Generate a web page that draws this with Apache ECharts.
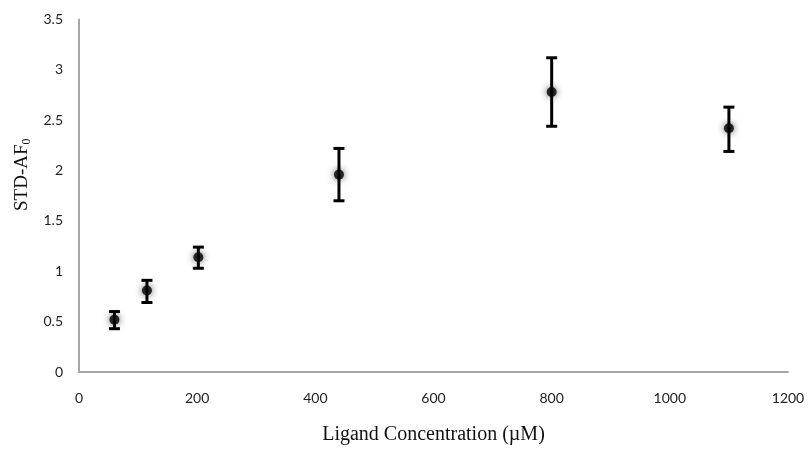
<!DOCTYPE html>
<html>
<head>
<meta charset="utf-8">
<script src="https://cdn.jsdelivr.net/npm/echarts@6/dist/echarts.min.js"></script>
<style>html,body{margin:0;padding:0;background:#fff}#c{width:809px;height:449px}</style>
</head>
<body>
<div id="c"></div>
<script>
var concentrations = [60, 115, 202, 440, 800, 1100];
var meanValues = [0.52, 0.81, 1.14, 1.96, 2.78, 2.42];
var errLow = [0.43, 0.69, 1.03, 1.70, 2.44, 2.19];
var errHigh = [0.60, 0.91, 1.24, 2.22, 3.12, 2.63];
var xTicks = [0, 200, 400, 600, 800, 1000, 1200];
var yTicks = [0, 0.5, 1, 1.5, 2, 2.5, 3, 3.5];

var chart = echarts.init(document.getElementById('c'));
var pts = concentrations.map(function (x, i) { return [x, meanValues[i]]; });
var errs = concentrations.map(function (x, i) { return [x, errLow[i], errHigh[i]]; });
var tickFont = 'Lato, "Open Sans", sans-serif';
chart.setOption({
  animation: false,
  grid: { left: 79, right: 21, top: 19.5, bottom: 77, containLabel: false, outerBoundsMode: 'none' },
  xAxis: {
    type: 'value', min: xTicks[0], max: xTicks[xTicks.length - 1], interval: xTicks[1] - xTicks[0],
    name: 'Ligand Concentration (\u00b5M)', nameLocation: 'middle', nameGap: 53,
    nameTextStyle: { fontFamily: '"Liberation Serif", serif', fontSize: 20, color: '#111' },
    axisLine: { show: true, lineStyle: { color: '#a6a6a6', width: 2 } },
    axisTick: { show: false }, splitLine: { show: false },
    axisLabel: { fontFamily: tickFont, fontSize: 14, color: '#222', margin: 19,
      formatter: function (v) { return String(v); } }
  },
  yAxis: {
    type: 'value', min: yTicks[0], max: yTicks[yTicks.length - 1], interval: yTicks[1] - yTicks[0],
    name: '{a|STD-AF}{s|0}', nameLocation: 'middle', nameGap: 42, nameRotate: 90,
    nameTextStyle: {
      padding: [0, 0, 0, 42],
      rich: {
        a: { fontFamily: '"Liberation Serif", serif', fontSize: 19, color: '#111' },
        s: { fontFamily: '"Liberation Serif", serif', fontSize: 12, color: '#111', verticalAlign: 'bottom', padding: [9, 0, 0, 0] }
      }
    },
    axisLine: { show: true, lineStyle: { color: '#a6a6a6', width: 2 } },
    axisTick: { show: false }, splitLine: { show: false },
    axisLabel: { fontFamily: tickFont, fontSize: 14, color: '#222', margin: 16,
      formatter: function (v) { return String(v); } }
  },
  series: [
    {
      type: 'custom',
      data: errs,
      renderItem: function (params, api) {
        var x = api.value(0);
        var lo = api.coord([x, api.value(1)]);
        var hi = api.coord([x, api.value(2)]);
        var hw = 5.5;
        var st = { stroke: '#000', lineWidth: 3 };
        return {
          type: 'group',
          children: [
            { type: 'line', shape: { x1: lo[0], y1: lo[1], x2: hi[0], y2: hi[1] }, style: st },
            { type: 'line', shape: { x1: lo[0] - hw, y1: lo[1], x2: lo[0] + hw, y2: lo[1] }, style: st },
            { type: 'line', shape: { x1: hi[0] - hw, y1: hi[1], x2: hi[0] + hw, y2: hi[1] }, style: st }
          ]
        };
      },
      z: 2
    },
    {
      type: 'scatter',
      data: pts,
      symbol: 'circle',
      symbolSize: 10,
      itemStyle: { color: '#000', shadowBlur: 7, shadowColor: 'rgba(0,0,0,0.8)' },
      z: 3
    }
  ]
});
</script>
</body>
</html>
